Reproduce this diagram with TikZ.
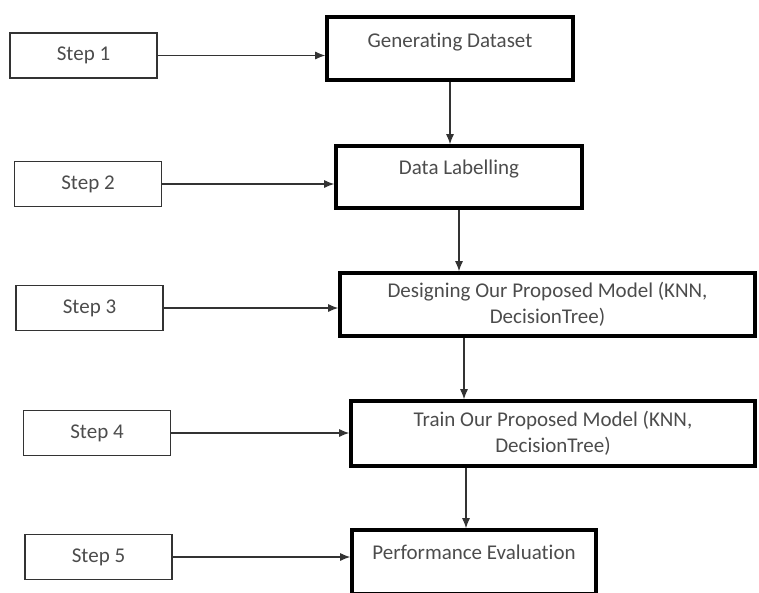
\documentclass[tikz,border=0pt]{standalone}
\usepackage{fontspec}
\setmainfont{Carlito}[Ligatures=NoCommon]
\usepackage{tikz}
\usetikzlibrary{arrows.meta}

\begin{document}
\begin{tikzpicture}[x=1pt,y=-1pt,
  stepbox/.style={draw=black!80,line width=1.6pt,minimum width=147pt,minimum height=45pt,inner sep=0pt,text=black!70},
  procbox/.style={draw=black,line width=3.6pt,inner sep=0pt,align=center,text=black!70},
  oneline/.style={text height=15pt,text depth=#1},
  arr/.style={-{Latex[length=10pt,width=8pt]},line width=1.1pt,draw=black!80}]
  \useasboundingbox (0,0) rectangle (759,592);
  \clip (0,0) rectangle (759,592);
  \fontsize{21}{26}\selectfont
% steps on the left
  \node[stepbox] (s1) at (83.5,55.5) {Step 1};
  \node[stepbox] (s2) at (88,184) {Step 2};
  \node[stepbox] (s3) at (89.5,308) {Step 3};
  \node[stepbox] (s4) at (97,433) {Step 4};
  \node[stepbox] (s5) at (98.5,557) {Step 5};
% process boxes
  \node[procbox,oneline=18pt,minimum width=246pt,minimum height=63pt] (gen) at (450,48.5) {Generating Dataset};
  \node[procbox,oneline=20pt,minimum width=246pt,minimum height=62pt] (lab) at (459,177) {Data Labelling};
  \node[procbox,minimum width=415pt,minimum height=63pt] (des) at (547.5,304.5)
    {Designing Our Proposed Model (KNN,\\DecisionTree)};
  \node[procbox,minimum width=404pt,minimum height=65pt] (train) at (553,433.5)
    {Train Our Proposed Model (KNN,\\DecisionTree)};
  \node[procbox,oneline=20pt,minimum width=244pt,minimum height=64pt] (perf) at (474,562) {Performance Evaluation};
  \coordinate (spine) at (464,0);
% step arrows
  \foreach \s/\p in {s1/gen,s2/lab,s3/des,s4/train,s5/perf}
    \draw[arr] (\s.east) -- (\s.east -| \p.west);
% flow down
  \draw[arr] (gen.south) -- (gen.south |- lab.north);
  \draw[arr] (lab.south) -- (lab.south |- des.north);
  \draw[arr] (spine |- des.south) -- (spine |- train.north);
  \draw[arr] ([xshift=2pt]spine |- train.south) -- ([xshift=2pt]spine |- perf.north);
\end{tikzpicture}
\end{document}
